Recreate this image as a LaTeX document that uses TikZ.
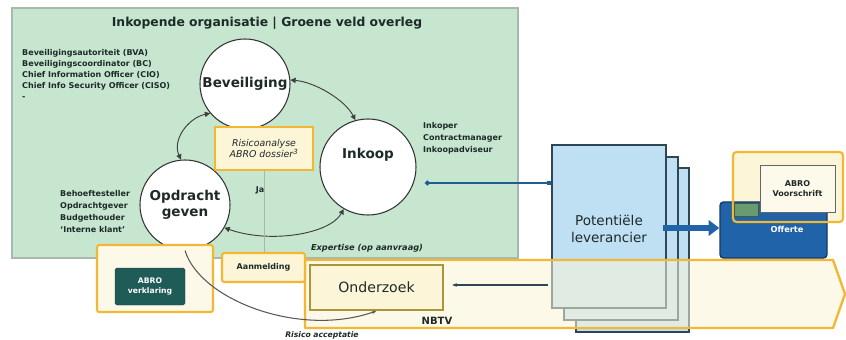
\documentclass[tikz,border=0pt]{standalone}
\usepackage{fontspec}
\setmainfont{DejaVu Sans}
\usetikzlibrary{arrows.meta}
\definecolor{gfill}{HTML}{C6E6CF}
\definecolor{gline}{HTML}{A8B8AE}
\definecolor{orng}{HTML}{F2B733}
\definecolor{ylw}{HTML}{FCF5D8}
\definecolor{lblue}{HTML}{BFDFF3}
\definecolor{dline}{HTML}{2E4656}
\definecolor{navy}{HTML}{1F5E94}
\definecolor{offb}{HTML}{2163A8}
\definecolor{abroteal}{HTML}{1F5C58}
\definecolor{olivebox}{HTML}{A8973A}
\definecolor{txt}{HTML}{1E2A2A}
\definecolor{tabgreen}{HTML}{6A9A70}
\begin{document}
\begin{tikzpicture}[x=0.85pt,y=-0.85pt,
  every node/.style={text=txt},
  circ/.style={circle, draw=black!80, fill=white, line width=0.9pt, inner sep=0pt,
    font=\fontsize{11.5}{14}\selectfont\bfseries, align=center},
  small/.style={font=\fontsize{6.8}{9.4}\selectfont\bfseries, align=left, inner sep=0pt},
  cyc/.style={draw=black!75, line width=0.8pt,
    {Triangle[length=4.5pt,width=4.5pt]}-{Triangle[length=4.5pt,width=4.5pt]}},
  obox/.style={draw=orng, line width=1.8pt, fill=ylw, rounded corners=2pt},
  levbox/.style={draw=dline, line width=0.9pt, fill=lblue, inner sep=0pt},
]
\useasboundingbox (0,0) rectangle (846,340);
\fill[white] (0,0) rectangle (846,340);

% green area
\draw[gline, fill=gfill, line width=1pt] (12,8) rectangle (518,258);
\node[font=\fontsize{10.5}{12}\selectfont\bfseries] (title) at (267,23)
  {Inkopende organisatie | Groene veld overleg};

% role lists
\node[small, anchor=north west] (bevlist) at (22,49)
  {Beveiligingsautoriteit (BVA)\\Beveiligingscoordinator (BC)\\Chief Information Officer (CIO)\\Chief Info Security Officer (CISO)\\-};
\node[small, anchor=north west, font=\fontsize{6.8}{10.2}\selectfont\bfseries] (inklist) at (423,122)
  {Inkoper\\Contractmanager\\Inkoopadviseur};
\node[small, anchor=north west, font=\fontsize{6.8}{10.2}\selectfont\bfseries] (opdlist) at (60,190)
  {Behoeftesteller\\Opdrachtgever\\Budgethouder\\`Interne klant'};

% circles
\node[circ, minimum size=90*0.85pt] (bev) at (245,84) {Beveiliging};
\node[circ, minimum size=96*0.85pt] (ink) at (368,167) {};
\node[font=\fontsize{11.5}{14}\selectfont\bfseries] (inkT) at (368,155) {Inkoop};
\node[circ, minimum size=90*0.85pt] (opd) at (185,205) {Opdracht\\geven};

% risk box
\node[draw=orng, line width=1.8pt, fill=ylw, minimum width=98*0.85pt, minimum height=43*0.85pt,
  font=\fontsize{8}{10}\selectfont\itshape, align=center] (risk) at (264,148.5)
  {Risicoanalyse\\ABRO dossier\textsuperscript{3}};
\node[small] (ja) at (260,190) {Ja};

% cycle connectors
\draw[cyc] (bev.5) .. controls (315,82) and (345,100) .. (ink.105);
\draw[cyc] (ink.240) .. controls (330,234) and (270,244) .. (opd.330);
\draw[cyc] (opd.95) .. controls (172,140) and (188,118) .. (bev.220);
\node[font=\fontsize{7}{8}\selectfont\bfseries\itshape] (exp) at (367,248) {Expertise (op aanvraag)};

% potential supplier stack
\node[levbox, minimum width=113*0.85pt, minimum height=164*0.85pt] (lev3) at (632.5,250) {};
\node[levbox, minimum width=114*0.85pt, minimum height=163*0.85pt] (lev2) at (621,238.5) {};
\node[levbox, minimum width=114*0.85pt, minimum height=163*0.85pt] (lev1) at (609,226.5) {};
\node[font=\fontsize{11.5}{14.5}\selectfont, align=center] (levT) at (609,228.5) {Potentiële\\leverancier};

% connector Inkoop -> leverancier
\coordinate (hl) at (425,183);
\draw[navy, line width=1.6pt, {Circle[length=4pt]}-{Square[length=3.5pt]}] (hl) -- (hl -| lev1.west);

% NBTV band
\fill[ylw, opacity=0.55] (305,260) -- (833,260) -- (845,294) -- (833,328) -- (305,328) -- cycle;
\draw[orng, line width=2pt, line join=round] (305,260) -- (833,260) -- (845,294) -- (833,328) -- (305,328) -- cycle;
\node[font=\fontsize{8.5}{10}\selectfont\bfseries] (nbtv) at (437,321) {NBTV};

% Onderzoek & Aanmelding
\node[draw=olivebox, line width=1.5pt, fill=ylw, minimum width=133*0.85pt, minimum height=45*0.85pt,
  font=\fontsize{12}{14}\selectfont] (ond) at (376.5,287.5) {Onderzoek};
\node[obox, minimum width=83*0.85pt, minimum height=29*0.85pt,
  font=\fontsize{6.8}{8}\selectfont\bfseries] (aan) at (263.5,267.5) {Aanmelding};
\draw[gray!45!gfill, line width=0.8pt] (risk.south) -- (risk.south |- aan.north);

\coordinate (la) at (548,285);
\draw[dline, line width=0.9pt, -{Stealth[length=4pt]}, shorten >=7pt] (la) -- (la -| ond.east);

% ABRO verklaring
\node[obox, fill=ylw!60!white, minimum width=116*0.85pt, minimum height=67*0.85pt] (abroV) at (155,278.5) {};
\node[fill=abroteal, draw=abroteal!70!black, rounded corners=1.5pt, minimum width=70*0.85pt, minimum height=37*0.85pt,
  text=white, font=\fontsize{6.5}{8}\selectfont\bfseries, align=center] (abroVi) at (150,286.5) {ABRO\\verklaring};

% Risico acceptatie
\draw[gray!70!black, line width=0.9pt, -{Stealth[length=4pt]}] (opd.south) .. controls (200,300) and (300,338) .. (ond.south);
\node[font=\fontsize{6.5}{8}\selectfont\bfseries\itshape] (risT) at (322,335) {Risico acceptatie};

% Offerte & ABRO Voorschrift
\node[fill=ylw, rounded corners=3pt, minimum width=110*0.85pt, minimum height=70*0.85pt] (abroSbg) at (788,187) {};
\node[fill=offb, draw=offb!60!black, line width=1.2pt, rounded corners=3pt,
  minimum width=107*0.85pt, minimum height=56*0.85pt] (off) at (773.5,230) {};
\coordinate (ta) at (663,228);
\draw[offb, line width=5pt, -{Triangle[length=9pt,width=13pt]}] (ta) -- (ta -| off.west);
\node[draw=orng, line width=1.8pt, rounded corners=3pt, minimum width=110*0.85pt, minimum height=70*0.85pt] (abroS) at (788,187) {};
\node[fill=tabgreen, draw=tabgreen!60!black, line width=0.8pt, minimum width=24*0.85pt, minimum height=13*0.85pt] (tab) at (746,210) {};
\node[fill=ylw!50!white, draw=black!60, line width=0.6pt, minimum width=75*0.85pt, minimum height=47*0.85pt,
  font=\fontsize{6.8}{9}\selectfont\bfseries, align=center] (abroSi) at (797.5,188.5) {ABRO\\Voorschrift};
\node[text=white, font=\fontsize{7}{8}\selectfont\bfseries] (offT) at (787,229) {Offerte};
\end{tikzpicture}
\end{document}
